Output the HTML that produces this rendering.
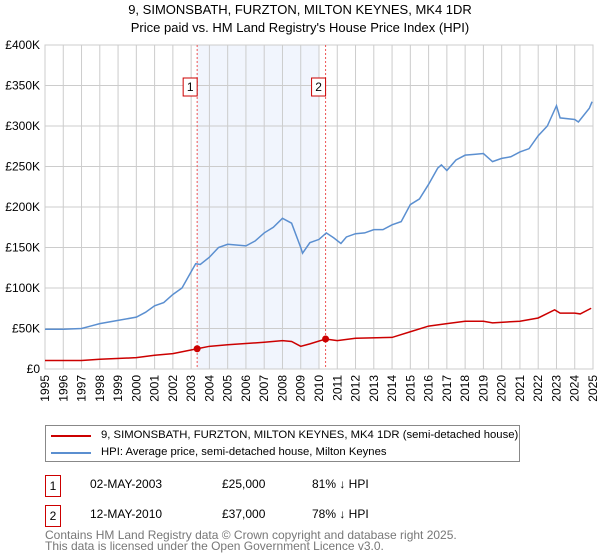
<!DOCTYPE html>
<html><head><meta charset="utf-8"><style>
body{margin:0;background:#fff;font-family:"Liberation Sans","DejaVu Sans",sans-serif;}
#wrap{position:relative;width:600px;height:560px;overflow:hidden}
.t{position:absolute;font-size:12px;color:#000;white-space:nowrap}
</style></head><body><div id="wrap">
<div class="t" style="left:0;width:600px;text-align:center;top:2px;font-size:13px">9, SIMONSBATH, FURZTON, MILTON KEYNES, MK4 1DR</div>
<div class="t" style="left:0;width:600px;text-align:center;top:20px;font-size:13px">Price paid vs. HM Land Registry's House Price Index (HPI)</div>
<svg id="c" width="600" height="420" style="position:absolute;left:0;top:0"></svg>
<div style="position:absolute;left:45px;top:425px;width:475px;height:37px;border:1px solid #888;box-sizing:border-box">
<div style="position:absolute;left:5px;top:9px;width:40px;height:2px;background:#cc0000"></div>
<div class="t" style="left:55px;top:3px;font-size:11.3px">9, SIMONSBATH, FURZTON, MILTON KEYNES, MK4 1DR (semi-detached house)</div>
<div style="position:absolute;left:5px;top:26px;width:40px;height:2px;background:#5b8fd0"></div>
<div class="t" style="left:55px;top:20px;font-size:11.3px">HPI: Average price, semi-detached house, Milton Keynes</div>
</div>
<div>
<div class="t" style="left:45px;top:475px;width:14px;height:20px;border:1px solid #cc0000;text-align:center;line-height:20px">1</div>
<div class="t" style="left:90px;top:477px">02-MAY-2003</div><div class="t" style="left:222px;top:477px">£25,000</div><div class="t" style="left:312px;top:477px">81% ↓ HPI</div></div>
<div>
<div class="t" style="left:45px;top:505px;width:14px;height:20px;border:1px solid #cc0000;text-align:center;line-height:20px">2</div>
<div class="t" style="left:90px;top:507px">12-MAY-2010</div><div class="t" style="left:222px;top:507px">£37,000</div><div class="t" style="left:312px;top:507px">78% ↓ HPI</div></div>
<div class="t" style="left:45px;top:530px;color:#777;line-height:11px">Contains HM Land Registry data © Crown copyright and database right 2025.<br>This data is licensed under the Open Government Licence v3.0.</div>
</div>
<script>
const hpiYears=[1995,1996,1997,1997.5,1998,1999,2000,2000.5,2001,2001.5,2002,2002.5,2003,2003.25,2003.5,2004,2004.5,2005,2006,2006.5,2007,2007.5,2008,2008.5,2009,2009.1,2009.5,2010,2010.4,2010.8,2011.2,2011.5,2012,2012.5,2013,2013.5,2014,2014.5,2015,2015.5,2016,2016.5,2016.7,2017,2017.5,2018,2018.5,2019,2019.5,2020,2020.5,2021,2021.5,2022,2022.5,2023,2023.2,2024,2024.2,2024.8,2024.95];
const hpiValues=[49,49,50,53,56,60,64,70,78,82,92,100,120,130,129,138,150,154,152,158,168,175,186,180,150,143,156,160,168,162,155,163,167,168,172,172,178,182,203,210,228,248,252,245,258,264,265,266,256,260,262,268,272,288,300,325,310,308,305,322,330];
const ppYears=[1995,1997,1998,2000,2001,2002,2003.33,2004,2005,2007,2008,2008.5,2009,2009.5,2010.36,2011,2012,2014,2015,2016,2017,2018,2019,2019.5,2021,2022,2022.9,2023.2,2024,2024.3,2024.9];
const ppValues=[10.5,10.5,12,14,17,19,25,28,30,33,35,34,28,31,37,35,38,39,46,53,56,59,59,57,59,63,73,69,69,68,75];
const saleYears=[2003.33,2010.36];
const saleValues=[25,37];
const saleLabels=["1","2"];
const yTicks=[0,50,100,150,200,250,300,350,400];
const yTickLabels=["£0","£50K","£100K","£150K","£200K","£250K","£300K","£350K","£400K"];
const xTicks=[1995,1996,1997,1998,1999,2000,2001,2002,2003,2004,2005,2006,2007,2008,2009,2010,2011,2012,2013,2014,2015,2016,2017,2018,2019,2020,2021,2022,2023,2024,2025];
const shadeRange=[2003.33,2010.0];

const svg=document.getElementById('c');const NS='http://www.w3.org/2000/svg';
const L=45,R=593,T=45,B=369;
const X=y=>L+(y-1995)/30*(R-L);
const Y=v=>B-v/400*(B-T);
function mk(tag,attrs,name){const e=document.createElementNS(NS,tag);for(const k in attrs)e.setAttribute(k,attrs[k]);


svg.appendChild(e);return e;}
mk('rect',{x:X(shadeRange[0]),y:T,width:X(shadeRange[1])-X(shadeRange[0]),height:B-T,fill:'#f1f5fd'},'sale-period-shade');
xTicks.forEach(t=>{mk('line',{x1:X(t),x2:X(t),y1:T,y2:B,stroke:'#ccc','stroke-width':1},'x-gridline');
const tx=mk('text',{x:0,y:0,'font-size':12,'text-anchor':'end',transform:`translate(${X(t)+4},${B+6}) rotate(-90)`,'font-family':'Liberation Sans, sans-serif'},'x-tick-label');tx.textContent=t;});
yTicks.forEach((t,i)=>{mk('line',{x1:L,x2:R,y1:Y(t),y2:Y(t),stroke:'#ccc','stroke-width':1},'y-gridline');
const tx=mk('text',{x:L-5,y:Y(t)+4,'font-size':12,'text-anchor':'end','font-family':'Liberation Sans, sans-serif'},'y-tick-label');tx.textContent=yTickLabels[i];});
mk('rect',{x:L,y:T,width:R-L,height:B-T,fill:'none',stroke:'#ccc'},'plot-frame');
saleYears.forEach((s,i)=>{mk('line',{x1:X(s),x2:X(s),y1:T,y2:B,stroke:'#ee5555','stroke-dasharray':'2,2','stroke-width':1},'sale-marker-line');
mk('rect',{x:X(s)-14,y:78,width:14,height:18,fill:'#fff',stroke:'#cc0000'},'sale-label-box');
const tx=mk('text',{x:X(s)-7,y:91,'font-size':12,'text-anchor':'middle','font-family':'Liberation Sans, sans-serif'},'sale-label');tx.textContent=saleLabels[i];});
mk('polyline',{points:hpiYears.map((y,i)=>X(y)+','+Y(hpiValues[i])).join(' '),fill:'none',stroke:'#5b8fd0','stroke-width':1.5},'hpi-line');
mk('polyline',{points:ppYears.map((y,i)=>X(y)+','+Y(ppValues[i])).join(' '),fill:'none',stroke:'#cc0000','stroke-width':1.5},'price-paid-line');
saleYears.forEach((s,i)=>mk('circle',{cx:X(s),cy:Y(saleValues[i]),r:3.5,fill:'#cc0000'},'sale-point'));
</script></body></html>
